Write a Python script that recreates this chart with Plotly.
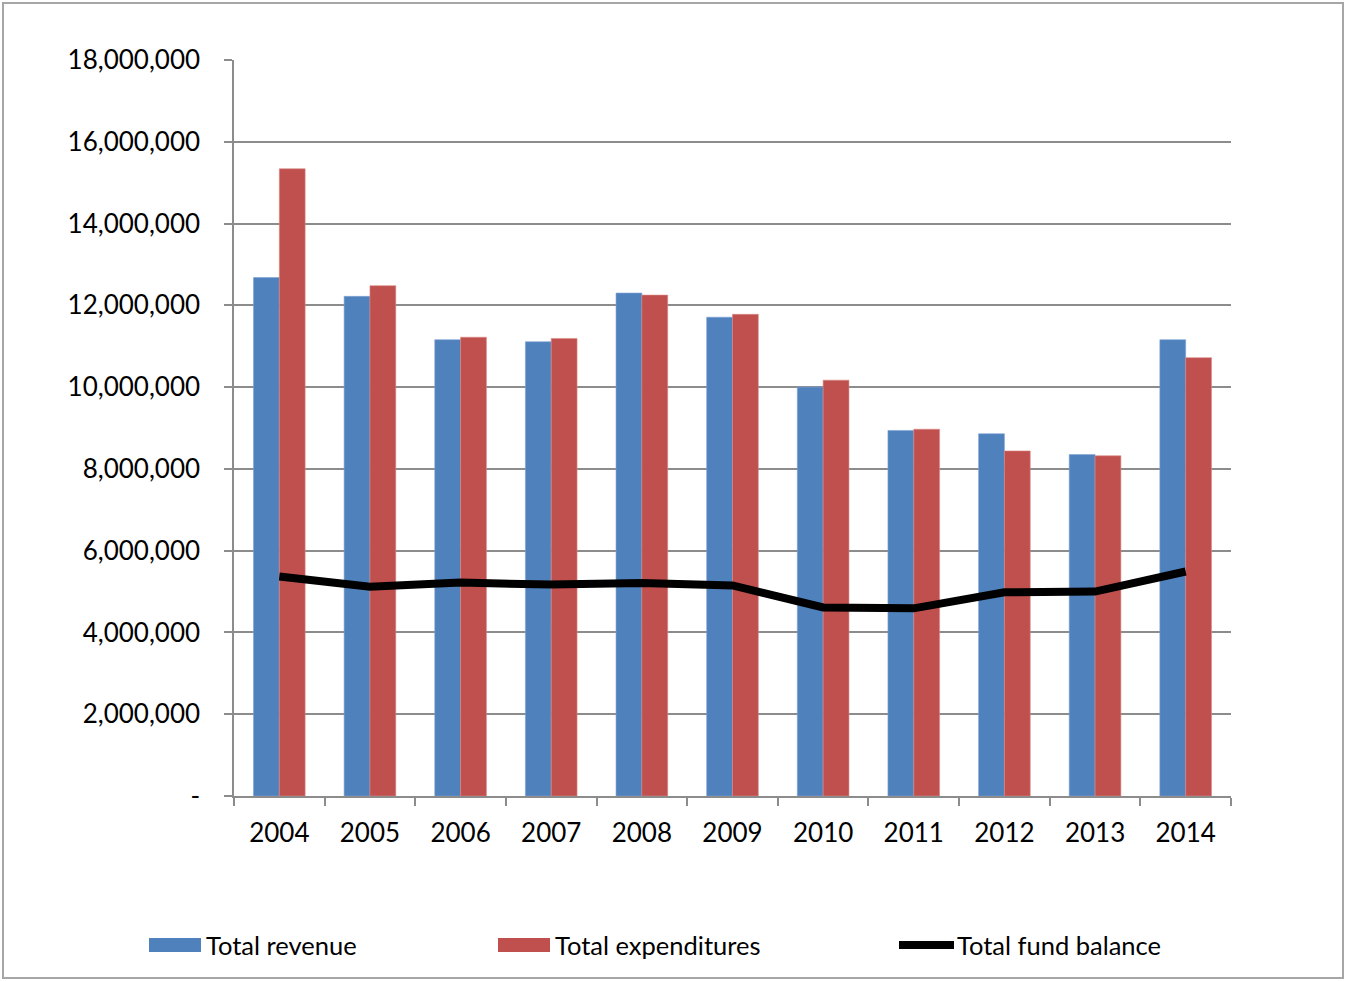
import plotly.graph_objects as go

# Fiscal years and totals
years = ["2004", "2005", "2006", "2007", "2008", "2009", "2010", "2011", "2012", "2013", "2014"]
total_revenue = [12_680_000, 12_220_000, 11_160_000, 11_110_000, 12_300_000, 11_710_000,
                 10_000_000, 8_940_000, 8_860_000, 8_350_000, 11_160_000]
total_expenditures = [15_340_000, 12_480_000, 11_220_000, 11_190_000, 12_250_000, 11_780_000,
                      10_170_000, 8_970_000, 8_440_000, 8_320_000, 10_720_000]
total_fund_balance = [5_370_000, 5_120_000, 5_220_000, 5_170_000, 5_210_000, 5_150_000,
                      4_610_000, 4_590_000, 4_980_000, 5_000_000, 5_490_000]

y_ticks = list(range(0, 18_000_001, 2_000_000))
y_tick_text = ["-" if v == 0 else f"{v:,}" for v in y_ticks]

BLUE = "#4F81BD"
RED = "#C0504D"
GRID = "#8C8C8C"
FONT = "Lato"

W, H = 1346, 981
L, R, T, B = 234, 115, 60, 185
PW, PH = W - L - R, H - T - B


def px_x(p):
    return (p - L) / PW


def px_y(p):
    return (H - B - p) / PH


fig = go.Figure()
fig.add_trace(go.Bar(x=years, y=total_revenue, name="Total revenue",
                     marker=dict(color=BLUE, line=dict(color="#7FA3D3", width=0.6))))
fig.add_trace(go.Bar(x=years, y=total_expenditures, name="Total expenditures",
                     marker=dict(color=RED, line=dict(color="#D98A88", width=0.6))))
fig.add_trace(go.Scatter(x=years, y=total_fund_balance, name="Total fund balance",
                         mode="lines", line=dict(color="black", width=8)))

# Legend row drawn beneath the plot
legend_y = px_y(945)
shapes = [
    dict(type="rect", xref="paper", yref="paper",
         x0=px_x(149), x1=px_x(201), y0=px_y(952), y1=px_y(938),
         fillcolor=BLUE, line=dict(width=0)),
    dict(type="rect", xref="paper", yref="paper",
         x0=px_x(498), x1=px_x(550), y0=px_y(952), y1=px_y(938),
         fillcolor=RED, line=dict(width=0)),
    dict(type="line", xref="paper", yref="paper",
         x0=px_x(899), x1=px_x(954), y0=legend_y, y1=legend_y,
         line=dict(color="black", width=8)),
    # outer chart border
    dict(type="rect", xref="paper", yref="paper",
         x0=px_x(3), x1=px_x(1343), y0=px_y(978), y1=px_y(3),
         line=dict(color="#A6A6A6", width=2), fillcolor="rgba(0,0,0,0)", layer="below"),
]
annotations = [
    dict(text="Total revenue", x=px_x(204), y=legend_y),
    dict(text="Total expenditures", x=px_x(553), y=legend_y),
    dict(text="Total fund balance", x=px_x(955), y=legend_y),
]
for a in annotations:
    a.update(xref="paper", yref="paper", xanchor="left", yanchor="middle",
             showarrow=False, font=dict(family=FONT, size=25.5, color="black"))

fig.update_layout(
    width=W, height=H,
    margin=dict(l=L, r=R, t=T, b=B),
    paper_bgcolor="white", plot_bgcolor="white",
    barmode="group", bargap=0.43, bargroupgap=0,
    showlegend=False,
    font=dict(family=FONT, size=26, color="black"),
    shapes=shapes, annotations=annotations,
)
fig.update_xaxes(
    type="category",
    showline=True, linecolor=GRID, linewidth=1.5,
    ticks="outside", tickson="boundaries", ticklen=8, tickcolor=GRID, tickwidth=1.5,
    showgrid=False, ticklabelstandoff=13,
    tickfont=dict(family=FONT, size=26, color="black"),
)
fig.update_yaxes(
    range=[0, 18_000_000], tickvals=y_ticks, ticktext=y_tick_text,
    showline=True, linecolor=GRID, linewidth=1.5,
    ticks="outside", ticklen=8, tickcolor=GRID, tickwidth=1.5,
    showgrid=True, gridcolor=GRID, gridwidth=1.5, zeroline=False,
    ticklabelstandoff=19,
    tickfont=dict(family=FONT, size=26, color="black"),
)

fig.write_html("out.html")
